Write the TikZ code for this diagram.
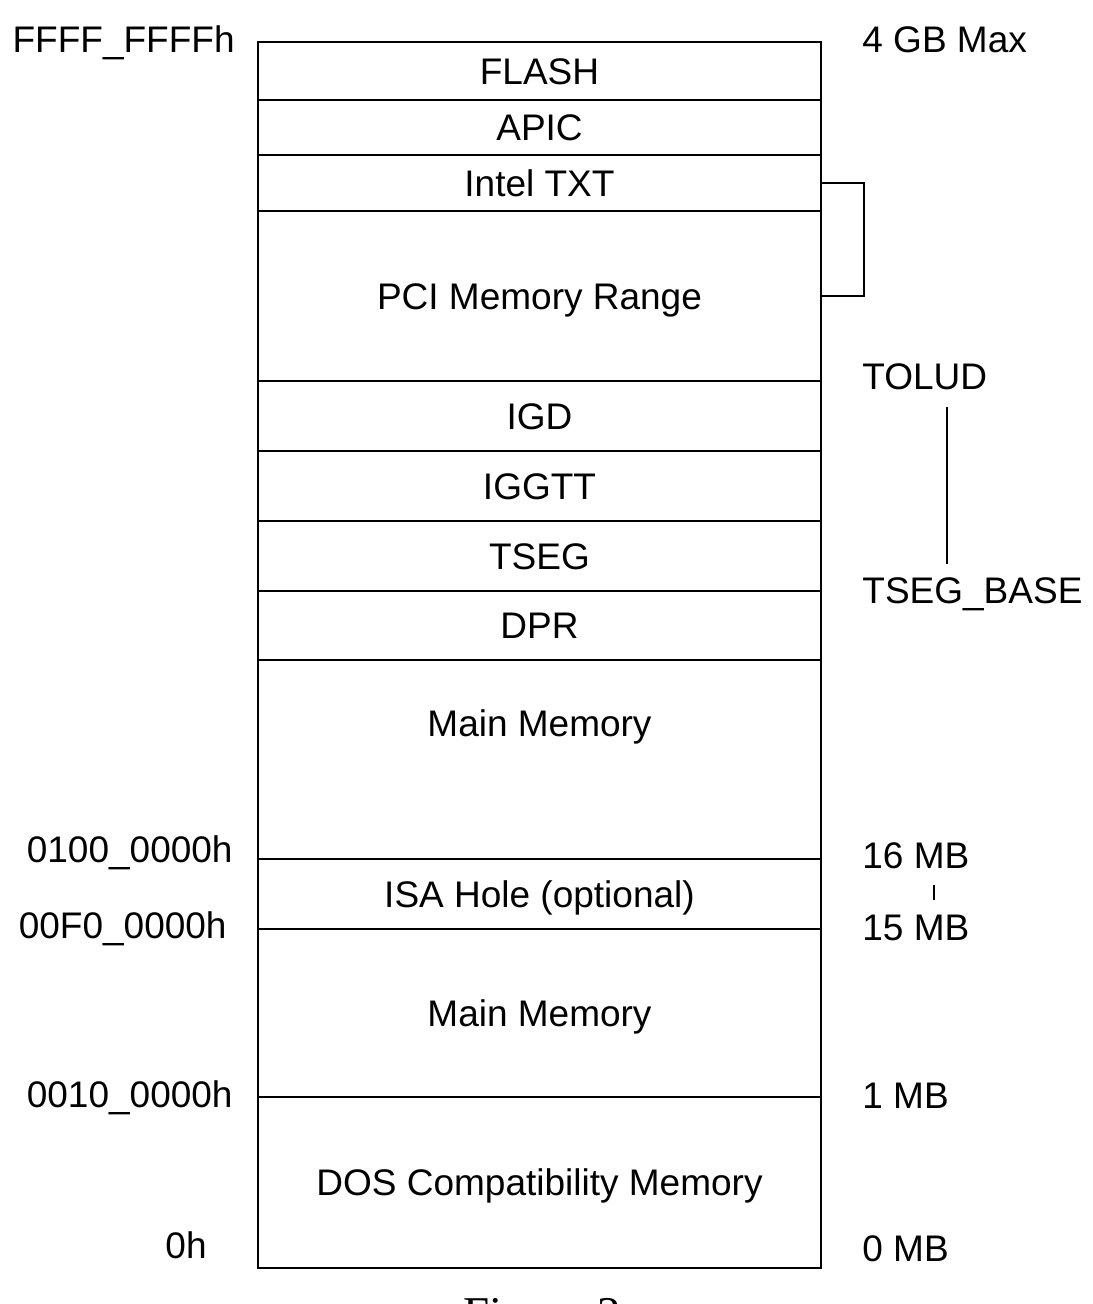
\documentclass[tikz,border=0pt]{standalone}
\usepackage{fontspec}
\setmainfont{Liberation Sans}
\newfontfamily\captionfont{Liberation Serif}
\usetikzlibrary{positioning}
\newcommand{\memfont}{\fontsize{18.5}{22}\selectfont}
\tikzset{
  region/.style={draw=black, line width=1pt, minimum width=281.5pt, outer sep=0pt,
    inner sep=0pt, text height=13.2pt, text depth=0pt, font=\memfont},
  addr/.style={anchor=base east, inner sep=0pt, font=\memfont},
  size/.style={anchor=base west, inner sep=0pt, font=\memfont},
  span/.style={draw=black, line width=0.8pt}
}
\begin{document}
\begin{tikzpicture}[x=0.5pt, y=-0.5pt]
    \useasboundingbox (0,0) rectangle (1092,1304);
    \clip (0,0) rectangle (1092,1304);
    % memory map, top to bottom
    \node[region, minimum height=29pt, anchor=north west] (flash) at (258,42) {FLASH};
    \node[region, minimum height=27.5pt, below=0pt of flash] (apic) {APIC};
    \node[region, minimum height=28pt, below=0pt of apic] (txt) {Intel TXT};
    \node[region, minimum height=85pt, below=0pt of txt] (pci) {PCI Memory Range};
    \node[region, minimum height=35pt, below=0pt of pci] (igd) {IGD};
    \node[region, minimum height=35pt, below=0pt of igd] (iggtt) {IGGTT};
    \node[region, minimum height=35pt, below=0pt of iggtt] (tseg) {TSEG};
    \node[region, minimum height=34.5pt, below=0pt of tseg] (dpr) {DPR};
    \node[region, minimum height=99.5pt, below=0pt of dpr] (mainhi) {};
    \node[font=\memfont, inner sep=0pt, text height=13.2pt, text depth=0pt]
        at ([yshift=18.25pt]mainhi.center) {Main Memory};
    \node[region, minimum height=35pt, below=0pt of mainhi] (isa) {ISA Hole (optional)};
    \node[region, minimum height=84pt, below=0pt of isa] (mainlo) {Main Memory};
    \node[region, minimum height=85.5pt, below=0pt of mainlo] (dos) {DOS Compatibility Memory};
    % addresses
    \node[addr] (aTop) at (235,53) {FFFF\_FFFFh};
    \node[addr] (a16) at (233,862) {0100\_0000h};
    \node[addr] (a15) at (227,938) {00F0\_0000h};
    \node[addr] (a1) at (233,1107) {0010\_0000h};
    \node[addr] (a0) at (207,1258) {0h};
    % sizes
    \node[size] (sTop) at (862,53) {4 GB Max};
    \node[size] (tolud) at (862,390) {TOLUD};
    \node[size] (tsegbase) at (862,603) {TSEG\_BASE};
    \node[size] (s16) at (862,868) {16 MB};
    \node[size] (s15) at (862,940) {15 MB};
    \node[size] (s1) at (862,1108) {1 MB};
    \node[size] (s0) at (862,1261) {0 MB};
    % bracket and spans
    \draw[line width=1pt] (txt.east) -- ++(43,0) |- (pci.east);
    \coordinate (toludEnd) at (947,407);
    \coordinate (tsegEnd) at (947,564);
    \draw[span] (toludEnd) -- (tsegEnd);
    \coordinate (tickTop) at (934,885);
    \coordinate (tickBot) at (934,900);
    \draw[span] (tickTop) -- (tickBot);
    \node[anchor=base, inner sep=0pt, font=\captionfont\fontsize{23.5}{28}\selectfont]
        (caption) at (542,1329) {Figure 2};
\end{tikzpicture}
\end{document}
